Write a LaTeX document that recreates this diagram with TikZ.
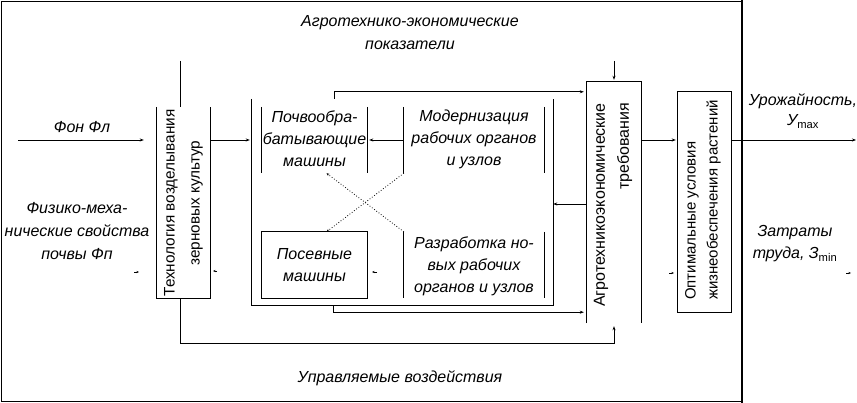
\documentclass[tikz,border=0pt]{standalone}
\usepackage{fontspec}
\setmainfont{Liberation Sans}
\usetikzlibrary{arrows.meta}
\begin{document}
\begin{tikzpicture}[x=1pt,y=-1pt,
  ln/.style={line width=0.8pt},
  arr/.style={ln,-{Stealth[length=4pt,width=3pt]}},
  tick/.style={line width=0.5pt,-{Stealth[length=2.5pt,width=2pt]}},
  lbl/.style={font=\fontsize{16}{22}\selectfont\itshape,align=center,inner sep=0pt},
  rlbl/.style={font=\fontsize{16}{24}\selectfont,rotate=90,inner sep=0pt},
  frame/.style={draw=none,inner sep=0pt,minimum width=#1},
  fh/.style={minimum height=#1},
]
\useasboundingbox (0,0) rectangle (857,403);
% outer frame
\draw[ln] (1,1) rectangle (742,401);
\draw[line width=2pt] (742,0) -- (742,403);

% box frames (invisible nodes used for anchors)
\node[frame=53,fh=191] (tech) at (183.5,202.5) {};
\node[frame=54,fh=241] (agro) at (614,202.5) {};
\node[frame=53,fh=220] (opt) at (704.5,202) {};
\node[frame=301,fh=206] (inner) at (402.5,202) {};
\node[frame=105,fh=66] (poch) at (314.5,140) {};
\node[frame=140,fh=66] (mod) at (474,140) {};
\node[frame=105,fh=66] (pos) at (314.5,265) {};
\node[frame=140,fh=66] (razr) at (474,265) {};

% visible edges
\draw[ln] (tech.north west) -- (tech.south west) -- (tech.south east) -- (tech.north east);
\draw[ln] (agro.south west) -- (agro.north west) -- (agro.north east) -- (agro.south east);
\draw[ln] (opt.north west) rectangle (opt.south east);
\draw[ln] (inner.north west) -- (inner.south west) -- (inner.south east) -- (inner.north east);
\draw[ln] (poch.north west) -- (poch.south west) (poch.north east) -- (poch.south east);
\draw[ln] (mod.north west) -- (mod.south west) (mod.north east) -- (mod.south east);
\draw[ln] (pos.north west) rectangle (pos.south east);
\draw[ln] (razr.north west) -- (razr.south west) (razr.north east) -- (razr.south east);

% texts in boxes
\node[rlbl,align=center,font=\fontsize{15.3}{25}\selectfont] (techt) at (183.5,203) {Технология возделывания\\зерновых культур};
\node[rlbl,align=right] (agrot) at (613,205) {Агротехникоэкономические\\требования};
\node[rlbl,align=left,font=\fontsize{15}{22}\selectfont] (optt) at (703,200) {Оптимальные условия\\жизнеобеспечения растений};
\node[lbl] (pocht) at (314.5,139) {Почвообра-\\батывающие\\машины};
\node[lbl] (modt) at (474,139) {Модернизация\\рабочих органов\\и узлов};
\node[lbl] (post) at (314.5,265) {Посевные\\машины};
\node[lbl] (razrt) at (474,266) {Разработка но-\\вых рабочих\\органов и узлов};

% free labels
\node[lbl,font=\fontsize{16}{23}\selectfont\itshape] (top) at (410,33) {Агротехнико-экономические\\показатели};
\node[lbl] (bot) at (400,378) {Управляемые воздействия};
\node[lbl] (fon) at (82,127) {Фон Фл};
\node[lbl,font=\fontsize{16}{23}\selectfont\itshape] (fiz) at (77,231) {Физико-меха-\\нические свойства\\почвы Фп};
\node[lbl,font=\fontsize{16}{20}\selectfont\itshape] (ur) at (803,111) {Урожайность,\\У\textsubscript{\upshape max}};
\node[lbl,font=\fontsize{16}{22}\selectfont\itshape] (zt) at (795,244) {Затраты\\труда, З\textsubscript{\upshape min}};

% connectors
\coordinate (fonS) at (18,140);
\draw[arr,shorten >=13pt] (fonS) -- (tech.west |- fonS);
\draw[arr,shorten >=2pt] (tech.east |- poch.west) -- (inner.west |- poch.west);
\draw[arr,shorten >=2pt] (mod.west) -- (poch.east);
\draw[arr] (agro.west |- 0,204) -- (inner.east |- 0,204);
\draw[arr,shorten >=3pt] ([xshift=83pt]inner.north west) |- (agro.west |- opt.north);
\draw[arr,shorten >=3pt] ([xshift=82pt]inner.south west) |- (agro.west |- opt.south);
\coordinate (topin) at (614,61);
\draw[arr,shorten >=2pt] (topin) -- (agro.north);
\coordinate (techtop) at (180,61);
\draw[ln] (techtop) -- (techtop |- tech.north);
\draw[arr] ([xshift=-3.5pt]tech.south) -- ++(0,45) -| ([yshift=-3pt]agro.south);
\draw[arr,shorten >=2pt] (agro.east |- poch.west) -- (opt.west |- poch.west);
\coordinate (out) at (856,140);
\draw[arr] (opt.east |- out) -- (out);

% dotted links
\draw[ln,dotted,-{Stealth[length=3pt,width=2.5pt]}] (mod.south west) -- ([xshift=12pt]pos.north);
\draw[ln,dotted,-{Stealth[length=3pt,width=2.5pt]}] (razr.north west) -- ([xshift=12pt]poch.south);

% faint marks (lines not printed)
\coordinate (m1) at (134,272);
\draw[tick] (m1) -- ++(5,0);
\coordinate (m2) at (217,271);
\draw[tick] (m2) -- ++(-4,0);
\coordinate (m3) at (377,272);
\draw[tick] (m3) -- ++(-5,0);
\coordinate (m4) at (669,273);
\draw[tick] (m4) -- ++(5,0);
\coordinate (m5) at (846,273);
\draw[tick] (m5) -- ++(5,0);
\end{tikzpicture}
\end{document}
